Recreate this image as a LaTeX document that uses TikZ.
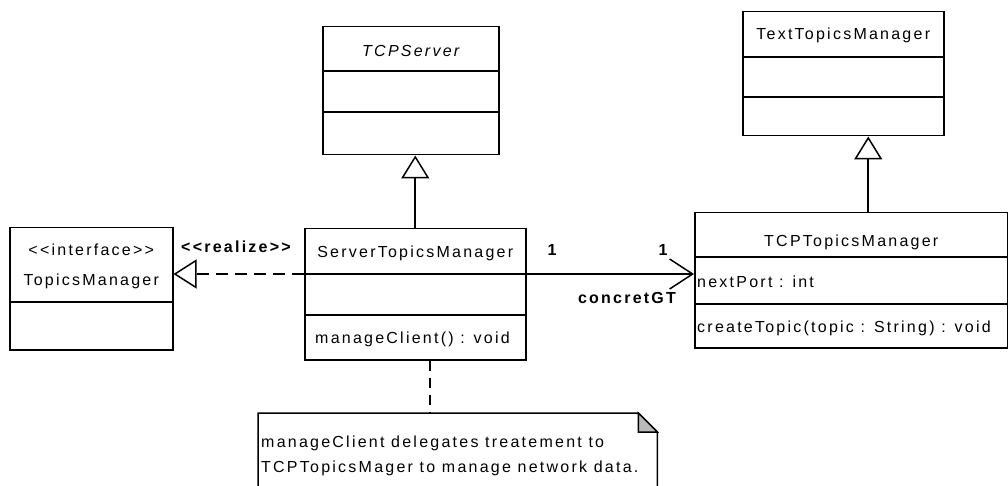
\documentclass[tikz,border=0pt]{standalone}
\usepackage{fontspec}
\setmainfont{Liberation Sans}[LetterSpace=14]
\usetikzlibrary{arrows.meta,positioning,calc}

\begin{document}
\begin{tikzpicture}[x=1pt,y=-1pt,
  every node/.style={font=\fontsize{16}{19}\selectfont,inner sep=0pt},%
  cls/.style={draw,line width=1.5pt,anchor=north west},%
  sep/.style={line width=1.5pt},%
  ttl/.style={anchor=base},%
  mem/.style={anchor=base west},%
  lbl/.style={anchor=base,font=\fontsize{16}{19}\selectfont\bfseries},%
  gen/.style={line width=2pt,-{Triangle[open,length=23pt,width=28pt,line width=1.5pt,fill=white]}},%
  rea/.style={line width=2pt,dash pattern=on 12pt off 7pt,%
    -{Triangle[open,length=23pt,width=29pt,line width=1.5pt,fill=white]}},%
  asc/.style={line width=2pt,-{Straight Barb[length=23pt,width=30pt,line width=1.5pt]}},%
  lnk/.style={line width=2pt,dash pattern=on 10pt off 7pt},%
  ]
  \useasboundingbox (0,0) rectangle (1008,486);

  % classes
  \node (topicsmgr) [cls,minimum width=163,minimum height=122] at (9,227) {};
  \draw [sep] ([yshift=-75]topicsmgr.north west) -- ([yshift=-75]topicsmgr.north east);
  \node (topicsstereo) [ttl] at ([yshift=-28]topicsmgr.north) {<{}<interface>{}>};
  \node (topicsname) [ttl] at ([yshift=-58]topicsmgr.north) {TopicsManager};

  \node (tcpserver) [cls,minimum width=176,minimum height=128] at (322,26) {};
  \draw [sep] ([yshift=-45]tcpserver.north west) -- ([yshift=-45]tcpserver.north east);
  \draw [sep] ([yshift=-86]tcpserver.north west) -- ([yshift=-86]tcpserver.north east);
  \node (tcpservername) [ttl,font=\fontsize{16}{19}\selectfont\itshape] at ([yshift=-31]tcpserver.north) {TCPServer};

  \node (servertm) [cls,minimum width=221,minimum height=131] at (304,228) {};
  \draw [sep] ([yshift=-46]servertm.north west) -- ([yshift=-46]servertm.north east);
  \draw [sep] ([yshift=-87]servertm.north west) -- ([yshift=-87]servertm.north east);
  \node (servertmname) [ttl] at ([yshift=-29]servertm.north) {ServerTopicsManager};
  \node (manageclient) [mem] at ([xshift=11,yshift=-115]servertm.north west) {manageClient() : void};

  \node (texttm) [cls,minimum width=201,minimum height=124] at (742,11) {};
  \draw [sep] ([yshift=-46]texttm.north west) -- ([yshift=-46]texttm.north east);
  \draw [sep] ([yshift=-86]texttm.north west) -- ([yshift=-86]texttm.north east);
  \node (texttmname) [ttl] at ([yshift=-29]texttm.north) {TextTopicsManager};

  \node (tcptm) [cls,minimum width=313,minimum height=135] at (694,212) {};
  \draw [sep] ([yshift=-45]tcptm.north west) -- ([yshift=-45]tcptm.north east);
  \draw [sep] ([yshift=-92]tcptm.north west) -- ([yshift=-92]tcptm.north east);
  \node (tcptmname) [ttl] at ([yshift=-35]tcptm.north) {TCPTopicsManager};
  \node (nextport) [mem] at ([xshift=3,yshift=-75]tcptm.north west) {nextPort : int};
  \node (createtopic) [mem] at ([xshift=3,yshift=-120]tcptm.north west) {createTopic(topic : String) : void};

  % note
  \node (note) [anchor=north west,minimum width=399,minimum height=74] at (258,413) {};
  \draw [sep] (note.south west) -- (note.north west) -- ([xshift=-19]note.north east)
    -- ([yshift=-19]note.north east) -- (note.south east);
  \draw [sep,fill=gray!55] ([xshift=-19]note.north east) -- ([xshift=-19,yshift=-19]note.north east)
    -- ([yshift=-19]note.north east) -- cycle;
  \node (notetext) [mem,align=left,font=\fontsize{16}{25}\selectfont] at ([xshift=3,yshift=-59]note.north west)
    {manageClient delegates treatement to\\TCPTopicsMager to manage network data.};

  % relations
  \draw [gen] (servertm.north) -- (servertm.north |- tcpserver.south);
  \draw [gen] ([xshift=17]tcptm.north) -- ([xshift=17]tcptm.north |- texttm.south);
  \draw [rea] ([yshift=-46]servertm.north west) -- ([yshift=-46]servertm.north west -| topicsmgr.east);
  \draw [asc] ([yshift=-46]servertm.north east) -- ([yshift=-46]servertm.north east -| tcptm.west);
  \draw [lnk] ([xshift=15]servertm.south) -- ([xshift=15]servertm.south |- note.north);

  \node (realize) [lbl] at (236,252) {<{}<realize>{}>};
  \node (multleft) [lbl] at (552,255) {1};
  \node (multright) [lbl] at (663,255) {1};
  \node (concretgt) [lbl] at (627,303) {concretGT};
\end{tikzpicture}
\end{document}
